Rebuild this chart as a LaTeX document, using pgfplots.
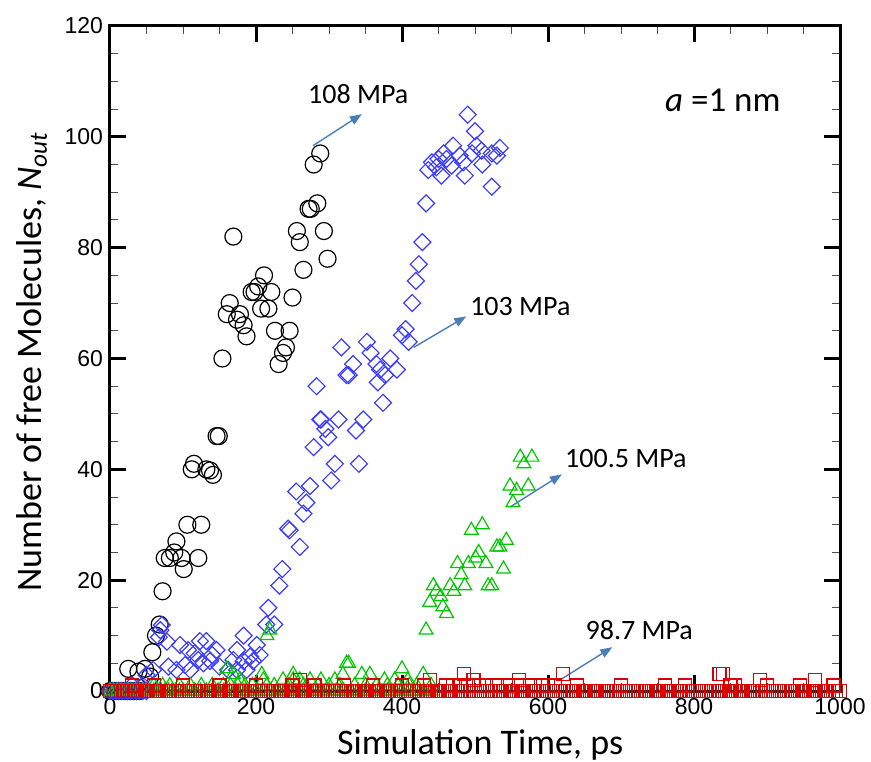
\documentclass[border=0pt]{standalone}
\usepackage{pgfplots}
\pgfplotsset{compat=1.18}
\usepackage{fontspec}
\setmainfont{Carlito}
\newfontfamily\arialfont{Liberation Sans}
\usetikzlibrary{arrows.meta}

\definecolor{mkblue}{RGB}{60,60,255}
\definecolor{mkgreen}{RGB}{0,200,0}
\definecolor{mkred}{RGB}{220,0,0}
\definecolor{arrowblue}{RGB}{74,126,187}

\begin{document}
\begin{tikzpicture}
\path[use as bounding box] (-55pt,-35pt) rectangle (380.5pt,345.5pt);
\begin{axis}[
  scale only axis, width=365pt, height=332.5pt,
  xmin=0, xmax=1000, ymin=0, ymax=120,
  xtick distance=200, ytick distance=20,
  minor x tick num=3, minor y tick num=3,
  tick align=inside, xtick pos=both, ytick pos=both,
  major tick length=8pt, minor tick length=4pt,
  major tick style={line width=1.5pt, black},
  minor tick style={line width=0.5pt, black!70},
  axis line style={line width=1.5pt},
  /pgf/number format/assume math mode=true,
  /pgf/number format/1000 sep={},
  tick label style={font=\arialfont\fontsize{11.5}{13}\selectfont},
  label style={font=\fontsize{18}{21}\selectfont},
  xlabel={Simulation Time, ps},
  ylabel={Number of free Molecules, \textit{N}\textsubscript{\textit{out}}},
  xlabel style={at={(axis description cs:0.507,-0.081)}, anchor=center},
  ylabel style={at={(axis description cs:-0.107,0.495)}, anchor=center},
  clip=false,
]
% 108 MPa
\addplot[only marks, color=black, mark=o, mark size=4.25pt, mark options={line width=0.6pt, draw=black}] coordinates {
(0,0)(3,0)(6,0)(9,0)(12,0)(15,0)(18,0)(21,0)(24,0)(27,0)(30,0)(33,0)(36,0)(40,0)
(25,4)(39,3.5)(48,4)(55,2.6)(58,7)(63,10)(68,12)(72,18)(75,24)(82,24)(88,25)(91,27)
(98,24)(101,22)(106,30)(112,40)(115,41)(121,24)(125,30)(132,40)(137,39.8)(141,39)
(146,46)(149,46)(154,60)(160,68)(164,70)(169,82)(174,67)(178,68)(183,66)(187,64)
(194,72)(198,72)(203,73)(207,69)(211,75)(217,69)(221,72)(226,65)(231,59)(237,61)
(241,62)(246,65)(250,71)(256,83)(260,81)(265,76)(272,87)(275,87)(279,95)(284,88)
(288,97)(293,83)(298,78)
};
% 103 MPa
\addplot[only marks, color=mkblue, mark=square, mark size=3pt, mark options={rotate=45, line width=0.6pt, draw=mkblue}] coordinates {
(0,0)(4,0)(8,0)(12,0)(16,0)(20,0)(24,0)(28,0)(32,0)(36,0)(40,0)(45,0)(50,0)(30,1)(45,1)
(50,2.9)(59,3.8)(67,9.7)(69,11)(71,11.9)(78,8.9)(80,4.4)(91,3.8)(96,8.3)(103,4.7)
(107,7.4)(110,3.8)(116,6.8)(121,5.6)(123,9)(128,5)(132,9)(137,5.4)(140,6.5)(146,7.4)
(150,4.4)(162,3.8)(169,5.6)(174,7.4)(174,3.8)(183,10)(183,5.4)(187,3.8)(192,6.2)
(196,5.4)(201,8.3)(205,6.5)(214,12)(217,15)(225,12)(232,19)(236,22)(244,29.3)(246,29)
(255,36)(260,26)(265,32)(269,34)(274,37)(279,44)(283,55)(288,49)(289,49)(295,47.3)
(299,45.8)(303,38)(308,41)(313,49)(317,62)(324,57)(327,57)(333,59)(337,47)(341,41)
(347,49)(352,63)(357,61)(365,59)(367,55.7)(370,58)(374,52)(377,57)(384,60)(393,58)
(400,64.2)(405,65.3)(409,63)(414,70)(419,74)(423,77)(428,81)(433,88)(436,94)(441,95.4)
(447,94.5)(450,96)(454,93)(457,97)(461,96)(468,94.8)(470,98.4)(479,96.6)(484,95.4)
(486,93)(490,104)(496,97)(500,101)(502,98.4)(509,97.5)(510,95)(523,97)(523,91)
(530,96.6)(534,98)
};
% 100.5 MPa
\addplot[only marks, color=mkgreen, mark=triangle, mark size=4pt, mark options={line width=0.6pt, draw=mkgreen}] coordinates {
(0,0)(5,0)(10,0)(15,0)(20,0)(25,0)(30,0)(35,0)(40,0)(45,0)(50,0)(55,0)(60,0)(65,0)
(70,0)(75,0)(80,0)(85,0)(90,0)(95,0)(100,0)(108,0)(116,0)(124,0)(132,0)(140,0)(148,0)
(156,0)(164,0)(172,0)(180,0)(190,0)(200,0)(210,0)(220,0)(230,0)(240,0)(250,0)(260,0)
(270,0)(280,0)(290,0)(300,0)(310,0)(320,0)(330,0)(340,0)(350,0)(360,0)(370,0)(380,0)
(390,0)(400,0)(410,0)(420,0)(430,0)(440,0)
(60,1)(72,1)(82,1)(95,1)(110,1)(125,1)(140,1)(155,1)(165,1)(175,1)(185,1)(195,1)
(215,1)(225,1)(245,1)(265,1)(285,1)(300,1)(315,1)(335,1)(350,1)(365,1)(380,1)(395,1)
(410,1)(420,1)(440,1)
(178,2)(210,2)(237,2)(251,2)(260,2)(274,2)(289,2)(308,2)(376,2)(390,2)(408,2)
(169,3)(208,3)(251,3)(319,3)(345,3)(356,3)(429,3)(160,4)(400,4)(324,5)(327,5)
(215,10)(219,11)
(433,11)(438,16)(443,19)(447,18)(453,17)(456,15.2)(461,14)(466,19)(471,18)(476,23)
(481,21)(486,19)(491,23)(495,29)(501,24)(505,25)(510,30)(515,23)(518,19)(523,19)
(530,26)(534,26)(539,22)(543,27.2)(548,37)(552,34)(557,36.2)(562,42.2)(567,41)
(573,37)(578,42.2)
};
% 98.7 MPa
\addplot[only marks, color=mkred, mark=square, mark size=3.25pt, mark options={line width=0.6pt, draw=mkred}] coordinates {
(0,0)(5,0)(10,0)(15,0)(20,0)(25,0)(30,0)(35,0)(40,0)(45,0)(50,0)(55,0)(60,0)(65,0)
(70,0)(75,0)(80,0)(85,0)(90,0)(95,0)(100,0)(105,0)(110,0)(115,0)(120,0)(125,0)(130,0)
(135,0)(140,0)(145,0)(150,0)(155,0)(160,0)(165,0)(170,0)(175,0)(180,0)(185,0)(190,0)
(195,0)(200,0)(205,0)(210,0)(215,0)(220,0)(225,0)(230,0)(235,0)(240,0)(245,0)(250,0)
(255,0)(260,0)(265,0)(270,0)(275,0)(280,0)(285,0)(290,0)(295,0)(300,0)(305,0)(310,0)
(315,0)(320,0)(325,0)(330,0)(335,0)(340,0)(345,0)(350,0)(355,0)(360,0)(365,0)(370,0)
(375,0)(380,0)(385,0)(390,0)(395,0)(400,0)(405,0)(410,0)(415,0)(420,0)(425,0)(430,0)
(435,0)(440,0)(445,0)(450,0)(455,0)(460,0)(465,0)(470,0)(475,0)(480,0)(485,0)(490,0)
(495,0)(500,0)(505,0)(510,0)(515,0)(520,0)(525,0)(530,0)(535,0)(540,0)(545,0)(550,0)
(555,0)(560,0)(565,0)(570,0)(575,0)(580,0)(585,0)(590,0)(595,0)(600,0)(605,0)(610,0)
(615,0)(620,0)(625,0)(630,0)(635,0)(640,0)(645,0)(650,0)(655,0)(660,0)(665,0)(670,0)
(675,0)(680,0)(685,0)(690,0)(695,0)(700,0)(705,0)(710,0)(715,0)(720,0)(725,0)(730,0)
(735,0)(740,0)(745,0)(750,0)(755,0)(760,0)(765,0)(770,0)(775,0)(780,0)(785,0)(790,0)
(795,0)(800,0)(805,0)(810,0)(815,0)(820,0)(825,0)(830,0)(835,0)(840,0)(845,0)(850,0)
(855,0)(860,0)(865,0)(870,0)(875,0)(880,0)(885,0)(890,0)(895,0)(900,0)(905,0)(910,0)
(915,0)(920,0)(925,0)(930,0)(935,0)(940,0)(945,0)(950,0)(955,0)(960,0)(965,0)(970,0)
(975,0)(980,0)(985,0)(990,0)(995,0)(1000,0)
(30,1)(60,1)(100,1)(150,1)(200,1)(250,1)(280,1)(320,1)(360,1)(400,1)(430,1)(460,1)
(470,1)(480,1)(490,1)(505,1)(515,1)(530,1)(545,1)(560,1)(575,1)(590,1)(600,1)(610,1)
(640,1)(700,1)(760,1)(788,1)(850,1)(856,1)(900,1)(945,1)(991,1)
(260,2)(438,2)(498,2)(560,2)(890,2)(966,2)
(485,3)(620,3)(835,3)(840,3)
};
% annotations
\draw[arrowblue, line width=0.7pt, -{Triangle[length=6pt,width=4.5pt]}] (axis cs:278,98.4) -- (axis cs:345,104.1);
\draw[arrowblue, line width=0.7pt, -{Triangle[length=6pt,width=4.5pt]}] (axis cs:416,62) -- (axis cs:488,67.6);
\draw[arrowblue, line width=0.7pt, -{Triangle[length=6pt,width=4.5pt]}] (axis cs:548,33.2) -- (axis cs:619,39.1);
\draw[arrowblue, line width=0.7pt, -{Triangle[length=6pt,width=4.5pt]}] (axis cs:614,1.8) -- (axis cs:688,7.9);
\node[anchor=west, inner sep=0pt, font=\fontsize{14}{16}\selectfont] at (axis cs:271,107.7) {108 MPa};
\node[anchor=west, inner sep=0pt, font=\fontsize{14}{16}\selectfont] at (axis cs:493,69.4) {103 MPa};
\node[anchor=west, inner sep=0pt, font=\fontsize{14}{16}\selectfont] at (axis cs:623,42) {100.5 MPa};
\node[anchor=west, inner sep=0pt, font=\fontsize{14}{16}\selectfont] at (axis cs:651,11) {98.7 MPa};
\node[anchor=west, inner sep=0pt, font=\fontsize{17.5}{20}\selectfont] at (axis cs:760,106.5) {\textit{a} =1 nm};
\end{axis}
\end{tikzpicture}
\end{document}
